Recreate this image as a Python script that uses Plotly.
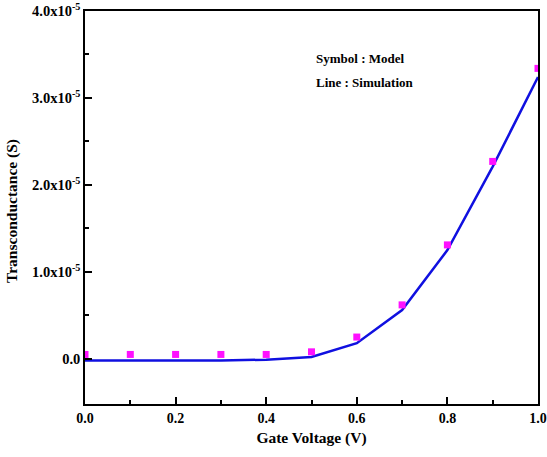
import plotly.graph_objects as go

gate_voltage = [0.0, 0.1, 0.2, 0.3, 0.4, 0.5, 0.6, 0.7, 0.8, 0.9, 1.0]
model_gm = [0.5e-6, 0.5e-6, 0.5e-6, 0.5e-6, 0.5e-6, 0.8e-6, 2.5e-6, 6.2e-6, 13.1e-6, 22.7e-6, 33.4e-6]
sim_gm = [-0.2e-6, -0.2e-6, -0.2e-6, -0.2e-6, -0.1e-6, 0.2e-6, 1.8e-6, 5.6e-6, 12.5e-6, 22.1e-6, 32.4e-6]

y_tickvals = [0.0, 1.0e-5, 2.0e-5, 3.0e-5, 4.0e-5]
y_ticktext = ["0.0", "1.0x10<sup>-5</sup>", "2.0x10<sup>-5</sup>", "3.0x10<sup>-5</sup>", "4.0x10<sup>-5</sup>"]
x_tickvals = [0.0, 0.2, 0.4, 0.6, 0.8, 1.0]
x_ticktext = ["0.0", "0.2", "0.4", "0.6", "0.8", "1.0"]

font_family = "Liberation Serif"

fig = go.Figure()
fig.add_trace(go.Scatter(x=gate_voltage, y=sim_gm, mode="lines",
                         line=dict(color="#1010e0", width=2.5), name="Simulation"))
fig.add_trace(go.Scatter(x=gate_voltage, y=model_gm, mode="markers",
                         marker=dict(color="#ff10ff", size=7, symbol="square"), name="Model"))

fig.update_layout(
    width=547, height=457,
    margin=dict(l=85, r=9, t=11, b=53),
    paper_bgcolor="white", plot_bgcolor="white",
    showlegend=False,
    font=dict(family=font_family, size=12, color="black"),
)
fig.update_xaxes(range=[0, 1.0], tickvals=x_tickvals, ticktext=x_ticktext, automargin=False,
                 showgrid=False, zeroline=False, showline=True, linecolor="black", linewidth=1.5,
                 mirror=True, ticks="inside", ticklen=7, tickwidth=1.5, tickcolor="black",
                 minor=dict(ticks="inside", ticklen=4, tickwidth=1.5, tickcolor="black", dtick=0.1),
                 tickfont=dict(family=font_family, size=14, color="black", weight="bold"),
                 title=dict(text="<b>Gate Voltage (V)</b>", font=dict(family=font_family, size=15.5), standoff=8))
fig.update_yaxes(range=[-0.52e-5, 4.0e-5], tickvals=y_tickvals, ticktext=y_ticktext, automargin=False,
                 showgrid=False, zeroline=False, showline=True, linecolor="black", linewidth=1.5,
                 mirror=True, ticks="inside", ticklen=7, tickwidth=1.5, tickcolor="black",
                 minor=dict(ticks="inside", ticklen=4, tickwidth=1.5, tickcolor="black",
                            tickvals=[0.5e-5, 1.5e-5, 2.5e-5, 3.5e-5]),
                 tickfont=dict(family=font_family, size=14.5, color="black", weight="bold"))

fig.add_annotation(x=-0.16, y=0.49, xref="paper", yref="paper", xanchor="center", yanchor="middle",
                   text="<b>Transconductance (S)</b>", textangle=-90, showarrow=False,
                   font=dict(family=font_family, size=15.5))
fig.add_annotation(x=0.505, y=3.45e-5, xref="x", yref="y", xanchor="left", yanchor="middle",
                   text="<b>Symbol : Model</b>", showarrow=False, font=dict(family=font_family, size=13))
fig.add_annotation(x=0.505, y=3.18e-5, xref="x", yref="y", xanchor="left", yanchor="middle",
                   text="<b>Line : Simulation</b>", showarrow=False, font=dict(family=font_family, size=13))

fig.write_html("out.html")
